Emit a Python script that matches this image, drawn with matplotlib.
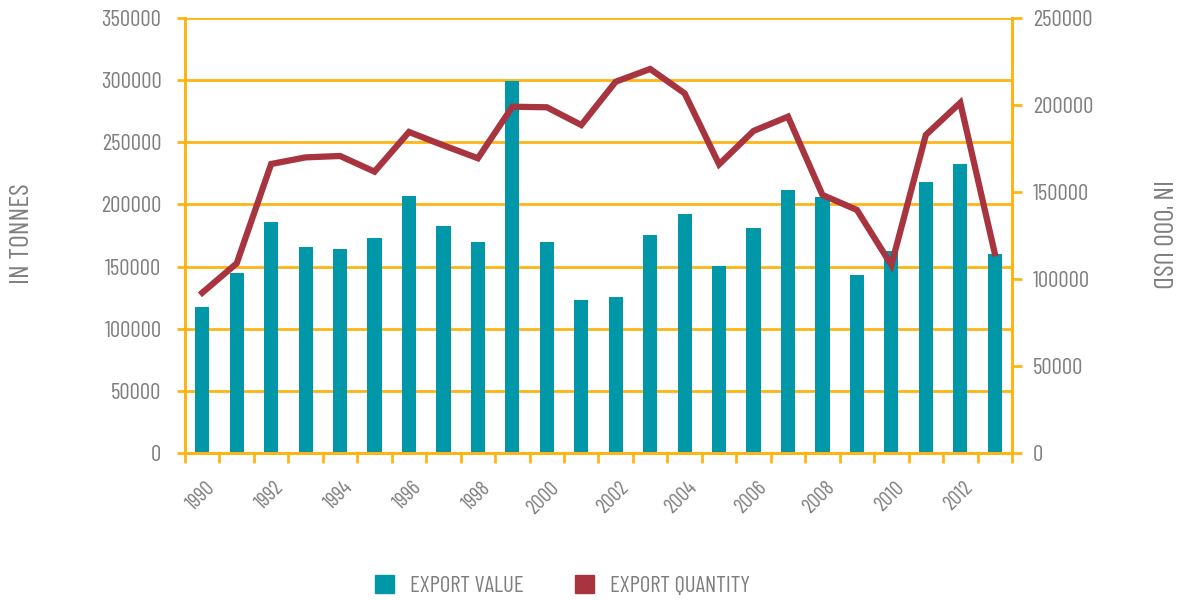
import matplotlib
matplotlib.use("Agg")
import matplotlib.pyplot as plt
import matplotlib.transforms as mtransforms
from matplotlib.patches import Patch

# data
years = list(range(1990, 2014))
export_value = [117500, 144800, 185900, 165700, 164100, 173000, 206800, 182600,
                169800, 299300, 169800, 123100, 125500, 175400, 192300, 150500,
                181000, 211600, 206000, 143200, 162500, 218000, 232500, 160100]
export_quantity = [92100, 109000, 166100, 169900, 170700, 161700, 184500, 176800,
                   169400, 199000, 198700, 188500, 213400, 220700, 206700, 165900,
                   185100, 193300, 148300, 139700, 108000, 182800, 201300, 114800]

teal = "#0097A8"
red = "#A8343F"
gold = "#FDB515"
grey = "#7F7F7F"

plt.rcParams["font.family"] = ["Barlow Condensed", "DejaVu Sans"]

fig = plt.figure(figsize=(11.8, 6), dpi=100)
ax = fig.add_axes([0.1568, 0.245, 0.7008, 0.725])
ax2 = ax.twinx()

x = list(range(len(years)))
ax.bar(x, export_value, width=0.41, color=teal, zorder=2)
ax2.plot(x, export_quantity, color=red, linewidth=4.5, solid_joinstyle="miter", zorder=3)

ax.set_xlim(-0.5, len(years) - 0.5)
ax.set_ylim(0, 350000)
ax2.set_ylim(0, 250000)
ax.set_yticks(range(0, 350001, 50000))
ax2.set_yticks(range(0, 250001, 50000))

# grid
ax.set_axisbelow(True)
ax.yaxis.grid(True, color=gold, linewidth=2)

for a in (ax, ax2):
    a.spines["top"].set_visible(False)
    for s in ("left", "right", "bottom"):
        a.spines[s].set_color(gold)
        a.spines[s].set_linewidth(2)

# x ticks on the slot edges, labels on even years
ax.set_xticks([i - 0.5 for i in range(len(years) + 1)])
ax.set_xticklabels([])
ax.tick_params(axis="x", which="major", direction="out", length=7, width=2, color=gold)
even = [i for i, y in enumerate(years) if y % 2 == 0]
ax.set_xticks(even, minor=True)
ax.set_xticklabels([str(years[i]) for i in even], minor=True)
ax.tick_params(axis="x", which="minor", length=0, pad=18, labelsize=15, labelcolor=grey)
offset = mtransforms.ScaledTranslation(2 / 72, 0, fig.dpi_scale_trans)
for lab in ax.get_xticklabels(minor=True):
    lab.set_rotation(45)
    lab.set_ha("right")
    lab.set_va("top")
    lab.set_rotation_mode("anchor")
    lab.set_transform(lab.get_transform() + offset)

ax.tick_params(axis="y", direction="out", length=6, width=2, color=gold,
               labelsize=16.5, labelcolor=grey, pad=11)
ax2.tick_params(axis="y", direction="out", length=7, width=2, color=gold,
                labelsize=16.5, labelcolor=grey, pad=8)

fig.text(0.019, 0.61, "IN TONNES", rotation=90, ha="center", va="center",
         fontsize=20, color=grey)
fig.text(0.983, 0.61, "IN '000 USD", rotation=270, ha="center", va="center",
         fontsize=20, color=grey)

handles = [Patch(color=teal, label="EXPORT VALUE"),
           Patch(color=red, label="EXPORT QUANTITY")]
fig.legend(handles=handles, loc="center", bbox_to_anchor=(0.4767, 0.024), ncol=2,
           frameon=False, fontsize=16.5, labelcolor=grey, handlelength=0.85,
           handleheight=0.85, handletextpad=0.7, columnspacing=2.2)

fig.savefig("out.png", dpi=100)
